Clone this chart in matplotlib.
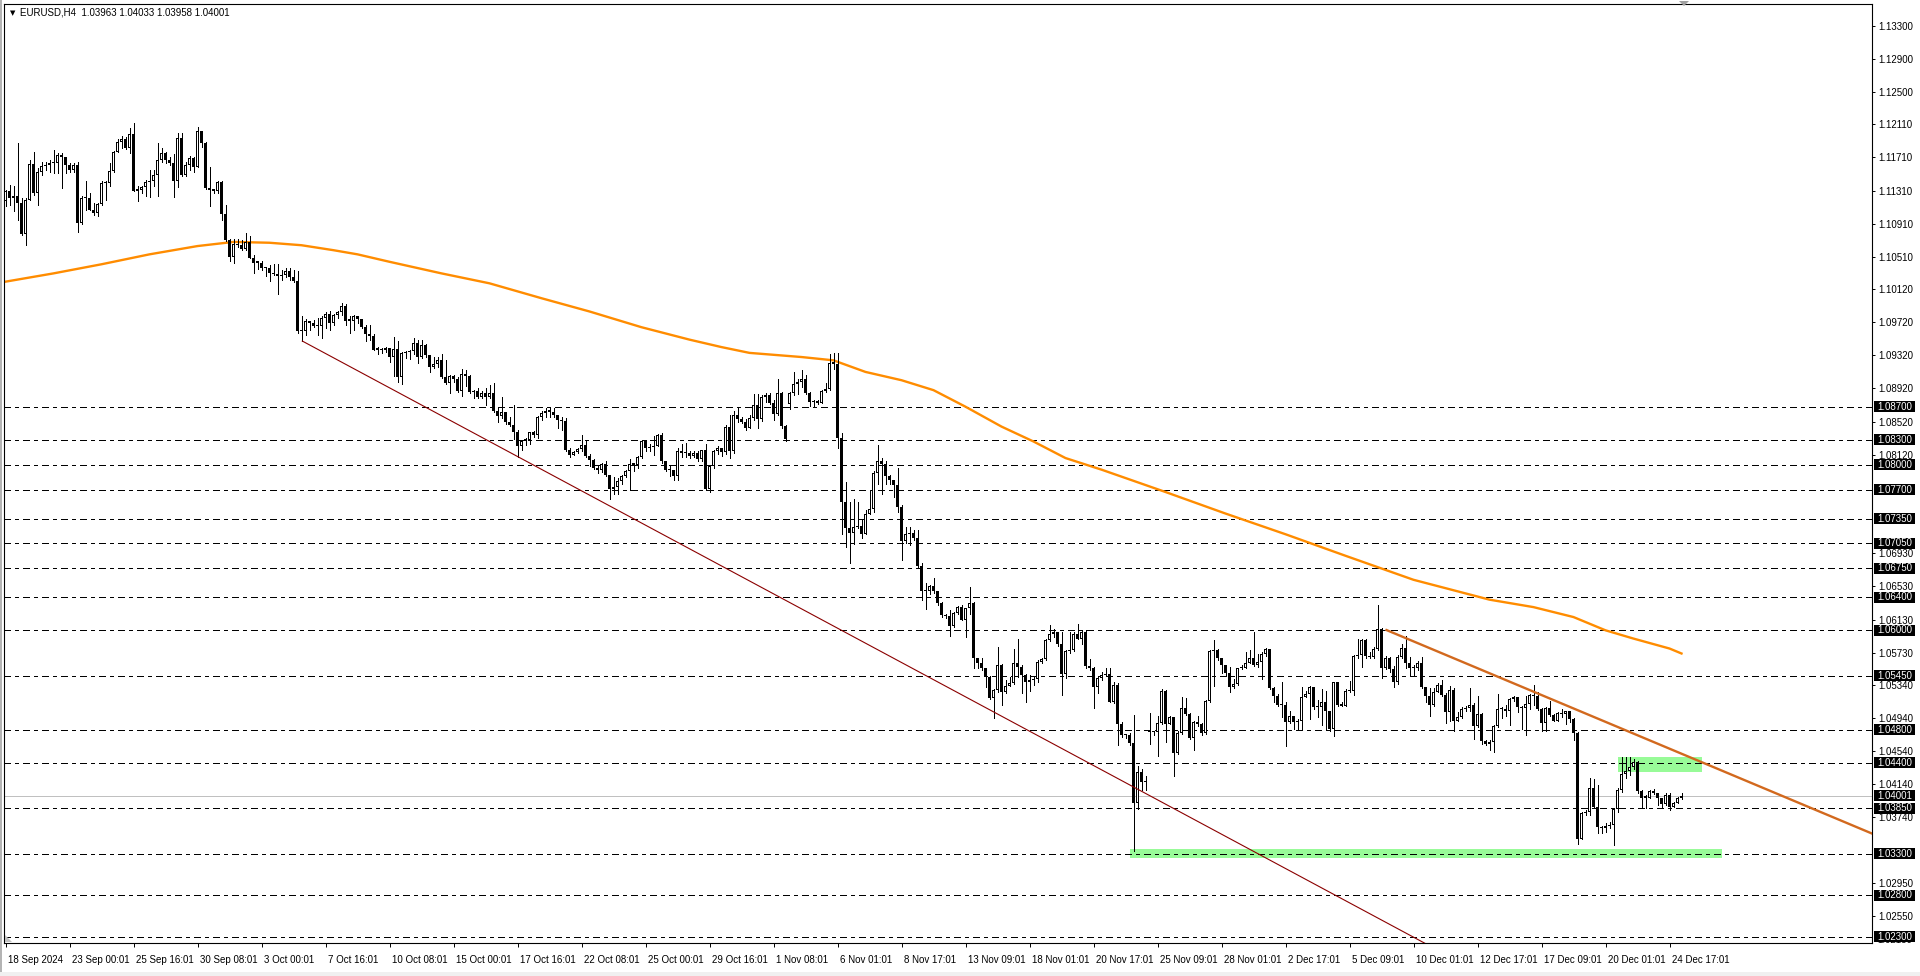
import numpy as np
import matplotlib
matplotlib.use("Agg")
import matplotlib.pyplot as plt
from matplotlib.patches import Rectangle, Polygon
from matplotlib.transforms import blended_transform_factory, ScaledTranslation

# ---------------- data (prices in 1e-4 units, e.g. 11130 = 1.1130) ----------------
PIP = 1e-4
first_open_p = 11118
gap_open_p = {196: 10873, 286: 10477}

close_p = [
    11130, 11122, 11124, 11116, 11079, 11120, 11163, 11128, 11154, 11161,
    11162, 11164, 11164, 11174, 11172, 11162, 11156, 11162, 11092, 11122,
    11122, 11108, 11104, 11115, 11140, 11140, 11155, 11178, 11190, 11193,
    11183, 11199, 11131, 11132, 11135, 11141, 11143, 11150, 11168, 11176,
    11168, 11164, 11142, 11195, 11150, 11162, 11170, 11160, 11203, 11188,
    11134, 11132, 11131, 11141, 11103, 11071, 11051, 11067, 11065, 11061,
    11069, 11050, 11044, 11044, 11037, 11038, 11031, 11030, 11028, 11029,
    11034, 11027, 11022, 10961, 10962, 10974, 10971, 10968, 10967, 10977,
    10982, 10971, 10981, 10984, 10992, 10974, 10974, 10980, 10976, 10966,
    10958, 10955, 10939, 10939, 10938, 10941, 10930, 10940, 10906, 10935,
    10936, 10937, 10947, 10930, 10945, 10932, 10918, 10922, 10926, 10906,
    10899, 10907, 10904, 10889, 10910, 10907, 10888, 10889, 10882, 10887,
    10882, 10887, 10865, 10859, 10864, 10851, 10848, 10840, 10823, 10829,
    10830, 10840, 10836, 10857, 10863, 10865, 10864, 10860, 10854, 10853,
    10818, 10812, 10815, 10819, 10824, 10810, 10806, 10796, 10793, 10801,
    10788, 10771, 10773, 10780, 10786, 10792, 10801, 10800, 10809, 10828,
    10820, 10821, 10823, 10836, 10804, 10793, 10793, 10786, 10817, 10814,
    10814, 10810, 10814, 10807, 10818, 10771, 10798, 10817, 10820, 10815,
    10846, 10816, 10860, 10855, 10852, 10844, 10856, 10872, 10855, 10882,
    10884, 10875, 10861, 10886, 10847, 10831, 10887, 10898, 10900, 10903,
    10887, 10876, 10876, 10875, 10889, 10891, 10923, 10922, 10832, 10755,
    10723, 10718, 10725, 10726, 10716, 10741, 10746, 10790, 10804, 10801,
    10786, 10781, 10775, 10749, 10708, 10716, 10718, 10711, 10678, 10647,
    10647, 10653, 10647, 10633, 10618, 10617, 10605, 10621, 10628, 10613,
    10627, 10633, 10566, 10560, 10554, 10544, 10518, 10528, 10558, 10526,
    10533, 10536, 10560, 10556, 10546, 10537, 10540, 10541, 10562, 10565,
    10588, 10596, 10598, 10583, 10547, 10575, 10576, 10596, 10590, 10598,
    10557, 10554, 10531, 10542, 10546, 10547, 10514, 10534, 10487, 10473,
    10473, 10464, 10392, 10429, 10417, 10418, 10477, 10477, 10488, 10527,
    10487, 10495, 10452, 10476, 10506, 10499, 10470, 10489, 10487, 10476,
    10515, 10575, 10576, 10566, 10558, 10549, 10531, 10535, 10554, 10555,
    10561, 10566, 10558, 10562, 10571, 10578, 10530, 10521, 10510, 10510,
    10489, 10497, 10489, 10491, 10519, 10523, 10531, 10507, 10507, 10514,
    10503, 10481, 10537, 10510, 10509, 10527, 10527, 10569, 10570, 10588,
    10569, 10568, 10578, 10601, 10554, 10567, 10553, 10537, 10568, 10579,
    10560, 10554, 10555, 10561, 10532, 10521, 10510, 10526, 10534, 10522,
    10501, 10528, 10490, 10495, 10505, 10506, 10510, 10484, 10499, 10466,
    10463, 10465, 10484, 10505, 10505, 10503, 10517, 10520, 10507, 10506,
    10511, 10522, 10521, 10505, 10488, 10506, 10498, 10491, 10500, 10499,
    10502, 10493, 10476, 10348, 10379, 10381, 10410, 10387, 10363, 10361,
    10364, 10365, 10384, 10407, 10427, 10430, 10435, 10441, 10406, 10398,
    10398, 10406, 10403, 10397, 10390, 10401, 10387, 10391, 10398, 10400,
]

high_p = [
    11132, 11138, 11136, 11188, 11122, 11122, 11168, 11177, 11158, 11166,
    11166, 11168, 11180, 11176, 11176, 11172, 11164, 11164, 11165, 11124,
    11142, 11128, 11116, 11116, 11143, 11143, 11164, 11179, 11193, 11197,
    11196, 11206, 11212, 11137, 11136, 11144, 11156, 11156, 11188, 11182,
    11178, 11172, 11175, 11201, 11200, 11166, 11173, 11171, 11208, 11203,
    11190, 11160, 11132, 11142, 11142, 11114, 11073, 11073, 11073, 11071,
    11080, 11076, 11053, 11046, 11046, 11039, 11041, 11042, 11042, 11035,
    11038, 11037, 11035, 11034, 10979, 10976, 10974, 10975, 10977, 10979,
    10984, 10985, 10982, 10986, 10995, 10994, 10979, 10981, 10979, 10976,
    10969, 10969, 10958, 10942, 10941, 10942, 10941, 10954, 10949, 10936,
    10937, 10939, 10953, 10950, 10950, 10946, 10932, 10930, 10930, 10934,
    10926, 10908, 10908, 10906, 10915, 10914, 10908, 10890, 10892, 10889,
    10892, 10896, 10899, 10868, 10882, 10863, 10857, 10872, 10842, 10830,
    10832, 10840, 10841, 10859, 10865, 10868, 10869, 10868, 10860, 10858,
    10856, 10820, 10817, 10820, 10836, 10830, 10813, 10807, 10799, 10802,
    10804, 10788, 10785, 10784, 10787, 10793, 10807, 10802, 10810, 10829,
    10830, 10825, 10835, 10837, 10838, 10805, 10798, 10792, 10820, 10825,
    10826, 10817, 10817, 10817, 10818, 10825, 10800, 10818, 10823, 10820,
    10848, 10860, 10865, 10869, 10857, 10855, 10860, 10885, 10885, 10884,
    10887, 10887, 10878, 10903, 10888, 10848, 10888, 10912, 10903, 10914,
    10908, 10888, 10878, 10878, 10890, 10899, 10934, 10935, 10935, 10838,
    10779, 10755, 10759, 10755, 10735, 10745, 10770, 10792, 10824, 10808,
    10804, 10787, 10782, 10796, 10751, 10725, 10725, 10721, 10721, 10681,
    10657, 10655, 10663, 10648, 10634, 10620, 10624, 10622, 10629, 10630,
    10627, 10652, 10634, 10567, 10566, 10555, 10545, 10529, 10580, 10559,
    10540, 10544, 10578, 10590, 10558, 10547, 10546, 10545, 10564, 10566,
    10589, 10606, 10601, 10598, 10598, 10576, 10598, 10598, 10608, 10600,
    10600, 10565, 10556, 10545, 10550, 10554, 10554, 10537, 10536, 10489,
    10475, 10476, 10498, 10436, 10432, 10424, 10500, 10479, 10497, 10529,
    10528, 10496, 10493, 10478, 10519, 10518, 10500, 10490, 10497, 10488,
    10516, 10576, 10588, 10578, 10566, 10558, 10556, 10541, 10555, 10558,
    10574, 10576, 10598, 10571, 10574, 10579, 10574, 10531, 10523, 10537,
    10514, 10503, 10497, 10493, 10531, 10527, 10533, 10532, 10516, 10529,
    10527, 10503, 10538, 10538, 10513, 10529, 10539, 10570, 10589, 10589,
    10589, 10574, 10580, 10630, 10603, 10569, 10568, 10557, 10570, 10583,
    10593, 10568, 10558, 10563, 10568, 10532, 10530, 10530, 10536, 10540,
    10524, 10533, 10530, 10501, 10507, 10509, 10530, 10512, 10521, 10500,
    10467, 10468, 10486, 10523, 10507, 10510, 10518, 10521, 10520, 10509,
    10521, 10523, 10534, 10526, 10506, 10507, 10515, 10499, 10501, 10505,
    10503, 10501, 10494, 10477, 10381, 10383, 10422, 10421, 10413, 10364,
    10367, 10368, 10386, 10409, 10447, 10447, 10447, 10444, 10442, 10407,
    10401, 10407, 10408, 10404, 10398, 10403, 10403, 10393, 10399, 10403,
]

low_p = [
    11112, 11114, 11106, 11095, 11077, 11065, 11120, 11126, 11114, 11150,
    11156, 11154, 11152, 11152, 11134, 11152, 11154, 11154, 11081, 11091,
    11108, 11107, 11101, 11100, 11114, 11120, 11137, 11153, 11177, 11183,
    11181, 11176, 11130, 11119, 11128, 11124, 11123, 11136, 11124, 11166,
    11164, 11162, 11123, 11135, 11148, 11148, 11156, 11154, 11160, 11184,
    11133, 11112, 11128, 11128, 11096, 11070, 11046, 11044, 11063, 11059,
    11059, 11049, 11031, 11036, 11035, 11028, 11022, 11029, 11006, 11023,
    11027, 11023, 11021, 10959, 10949, 10957, 10963, 10966, 10957, 10953,
    10965, 10963, 10969, 10977, 10981, 10969, 10959, 10963, 10971, 10965,
    10949, 10951, 10938, 10934, 10935, 10936, 10924, 10907, 10900, 10898,
    10929, 10928, 10934, 10923, 10929, 10930, 10912, 10917, 10918, 10905,
    10898, 10886, 10900, 10888, 10883, 10895, 10887, 10880, 10880, 10880,
    10872, 10880, 10864, 10851, 10856, 10849, 10847, 10831, 10809, 10818,
    10824, 10825, 10833, 10832, 10854, 10858, 10858, 10857, 10844, 10842,
    10817, 10809, 10813, 10814, 10816, 10809, 10798, 10795, 10790, 10791,
    10786, 10759, 10765, 10765, 10777, 10785, 10769, 10792, 10796, 10808,
    10817, 10817, 10812, 10822, 10802, 10792, 10786, 10781, 10781, 10809,
    10809, 10808, 10809, 10804, 10805, 10770, 10767, 10796, 10813, 10811,
    10813, 10808, 10814, 10851, 10850, 10842, 10844, 10854, 10844, 10853,
    10876, 10873, 10854, 10860, 10844, 10829, 10867, 10884, 10885, 10894,
    10885, 10871, 10870, 10873, 10875, 10888, 10890, 10916, 10820, 10716,
    10701, 10681, 10704, 10724, 10711, 10716, 10740, 10743, 10777, 10765,
    10777, 10777, 10761, 10743, 10685, 10705, 10703, 10709, 10676, 10636,
    10626, 10644, 10645, 10631, 10616, 10615, 10593, 10604, 10620, 10612,
    10592, 10620, 10555, 10554, 10552, 10532, 10517, 10494, 10526, 10510,
    10524, 10533, 10535, 10544, 10524, 10514, 10527, 10534, 10537, 10560,
    10564, 10587, 10592, 10581, 10522, 10542, 10573, 10575, 10589, 10584,
    10555, 10552, 10506, 10524, 10540, 10545, 10513, 10512, 10461, 10471,
    10470, 10462, 10333, 10384, 10407, 10407, 10463, 10474, 10448, 10487,
    10465, 10487, 10424, 10451, 10475, 10498, 10469, 10456, 10485, 10473,
    10475, 10514, 10533, 10564, 10548, 10546, 10526, 10530, 10534, 10553,
    10554, 10560, 10557, 10556, 10541, 10569, 10529, 10514, 10508, 10495,
    10460, 10488, 10481, 10480, 10481, 10519, 10493, 10505, 10495, 10486,
    10480, 10479, 10472, 10509, 10508, 10510, 10526, 10522, 10566, 10556,
    10567, 10566, 10567, 10576, 10542, 10553, 10550, 10531, 10535, 10567,
    10555, 10546, 10545, 10552, 10530, 10514, 10497, 10509, 10525, 10521,
    10488, 10490, 10479, 10490, 10494, 10502, 10503, 10469, 10483, 10463,
    10462, 10455, 10453, 10483, 10494, 10496, 10486, 10515, 10501, 10481,
    10474, 10505, 10510, 10504, 10479, 10479, 10497, 10490, 10491, 10495,
    10487, 10489, 10467, 10342, 10352, 10377, 10377, 10385, 10355, 10355,
    10357, 10361, 10341, 10381, 10405, 10422, 10425, 10433, 10404, 10385,
    10385, 10397, 10402, 10389, 10387, 10389, 10383, 10389, 10393, 10396,
]

# moving average (orange curve), sampled at bar numbers
ma_bar = [0, 12, 24, 36, 48, 57, 66, 74, 82, 88, 96, 109, 121, 134, 146, 159, 171,
          179, 186, 199, 207, 215, 224, 232, 240, 249, 257, 265, 274, 290, 305, 320,
          335, 352, 371, 382, 392, 400, 407, 416, 419]
ma_p = [11021, 11031, 11042, 11054, 11064, 11069, 11068, 11065, 11059, 11054, 11045,
        11031, 11019, 11001, 10985, 10966, 10951, 10942, 10935, 10930, 10926, 10912,
        10902, 10890, 10870, 10846, 10828, 10808, 10794, 10767, 10741, 10716, 10690,
        10661, 10637, 10628, 10616, 10600, 10590, 10578, 10572]

date_labels = ["18 Sep 2024", "23 Sep 00:01", "25 Sep 16:01", "30 Sep 08:01", "3 Oct 00:01",
               "7 Oct 16:01", "10 Oct 08:01", "15 Oct 00:01", "17 Oct 16:01", "22 Oct 08:01",
               "25 Oct 00:01", "29 Oct 16:01", "1 Nov 08:01", "6 Nov 01:01", "8 Nov 17:01",
               "13 Nov 09:01", "18 Nov 01:01", "20 Nov 17:01", "25 Nov 09:01", "28 Nov 01:01",
               "2 Dec 17:01", "5 Dec 09:01", "10 Dec 01:01", "12 Dec 17:01", "17 Dec 09:01",
               "20 Dec 01:01", "24 Dec 17:01"]
bars_per_label = 16

price_ticks = [1.13300, 1.12900, 1.12500, 1.12110, 1.11710, 1.11310, 1.10910, 1.10510,
               1.10120, 1.09720, 1.09320, 1.08920, 1.08520, 1.08120, 1.06930, 1.06530,
               1.06130, 1.05730, 1.05340, 1.04940, 1.04540, 1.04140, 1.03740, 1.02950,
               1.02550]
bottom_price_label = 1.02150

levels = [1.08700, 1.08300, 1.08000, 1.07700, 1.07350, 1.07050, 1.06750, 1.06400,
          1.06000, 1.05450, 1.04800, 1.04400, 1.03850, 1.03300, 1.02800, 1.02300]
bid = 1.04001
title = "EURUSD,H4  1.03963 1.04033 1.03958 1.04001"

# drawn objects: (bar, price) anchors
red_trend = [(74.2, 1.09493), (255.0, 1.04808)]
orange_trend = [(345.25, 1.06003), (438.75, 1.04110)]
zones = [((403.0, 1.04285), (424.0, 1.04475)),
         ((281.0, 1.03251), (429.0, 1.03356))]

# ---------------- build OHLC ----------------
c = np.array(close_p) * PIP
o = np.empty_like(c)
o[0] = first_open_p * PIP
o[1:] = c[:-1]
for k, v in gap_open_p.items():
    o[k] = v * PIP
h = np.maximum.reduce([np.array(high_p) * PIP, o, c])
l = np.minimum.reduce([np.array(low_p) * PIP, o, c])
n = len(c)
x = np.arange(n)

# ---------------- figure ----------------
plt.rcParams['font.family'] = ['Liberation Sans', 'DejaVu Sans']
plt.rcParams['font.size'] = 7
plt.rcParams['lines.scale_dashes'] = False
FS = 7

W, H = 1920, 976
fig = plt.figure(figsize=(W / 100, H / 100), dpi=100)
ax_l, ax_r, ax_t, ax_b = 4, 1872, 4, 943
ax = fig.add_axes([ax_l / W, (H - ax_b) / H, (ax_r - ax_l) / W, (ax_b - ax_t) / H])
ymin, ymax = 1.02224, 1.13563
xmin = -0.375
xmax = xmin + (ax_r - ax_l) / 4.0
ax.set_xlim(xmin, xmax)
ax.set_ylim(ymin, ymax)
ppx = (ax_b - ax_t) / (ymax - ymin)      # pixels per price unit
bpx = (ax_r - ax_l) / (xmax - xmin)      # pixels per bar
PX = 1.0 / bpx                           # one pixel in bar units
onepx_pt = 72.0 / 100.0

# zones
for (x0, y0), (x1, y1) in zones:
    ax.add_patch(Rectangle((x0, y0), x1 - x0, y1 - y0, facecolor='#98FB98',
                           edgecolor='none', zorder=0.5))

# levels
for lv in levels:
    ax.axhline(lv, color='black', lw=onepx_pt, linestyle=(0, (5.0, 2.9, 2.2, 2.9)),
               zorder=1, antialiased=False)
ax.axhline(bid, color='#C0C0C0', lw=onepx_pt, zorder=1, antialiased=False)

# moving average
ax.plot(ma_bar, np.array(ma_p) * PIP, color='#FF8C00', lw=1.7, zorder=2)

# candles: wick, black 3px body, white 1px interior for bullish bodies
up = c >= o
ax.vlines(x, l, h, color='black', lw=onepx_pt, zorder=3, antialiased=False)
body_b = np.minimum(o, c)
body_h = np.abs(c - o)
body_draw = np.maximum(body_h, 1.2 / ppx)
ax.bar(x, body_draw, bottom=body_b, width=3 * PX, color='black', edgecolor='none',
       linewidth=0, zorder=4, antialiased=False)
inner = up & (body_h * ppx > 2.2)
ax.bar(x[inner], body_h[inner] - 2.0 / ppx, bottom=body_b[inner] + 1.0 / ppx,
       width=1 * PX, color='white', edgecolor='none', linewidth=0, zorder=5,
       antialiased=False)

# trend lines
def ray(p0, p1, x_end):
    (xa, ya), (xb, yb) = p0, p1
    s = (yb - ya) / (xb - xa)
    return [xa, x_end], [ya, ya + s * (x_end - xa)]

rx, ry = ray(*red_trend, xmax + 5)
ax.plot(rx, ry, color='#8B0000', lw=0.8, zorder=6)
ox, oy = ray(*orange_trend, xmax + 5)
ax.plot(ox, oy, color='#D2691E', lw=1.7, zorder=6)

# ---------------- axes styling ----------------
for sp in ax.spines.values():
    sp.set_linewidth(0.8)
    sp.set_color('black')

ax.yaxis.tick_right()
ax.set_yticks(price_ticks)
ax.set_yticklabels([f"{v:.5f}" for v in price_ticks])
ax.tick_params(axis='y', direction='out', length=2.2, width=0.7, pad=2.0,
               labelsize=FS, colors='black')

ax.set_xticks(np.arange(len(date_labels)) * bars_per_label)
ax.set_xticklabels(date_labels)
ax.tick_params(axis='x', direction='out', length=3.0, width=0.7, pad=5.5, labelsize=FS)
for lab in ax.get_xticklabels():
    lab.set_ha('left')
    lab.set_transform(lab.get_transform() + ScaledTranslation(2 / 100, 0, fig.dpi_scale_trans))

tr = blended_transform_factory(ax.transAxes, ax.transData)
axw = ax_r - ax_l
shift = ScaledTranslation(5 / 100, 0, fig.dpi_scale_trans)
ax.text(1.0, ymin + 3 / ppx, f"{bottom_price_label:.5f}", transform=tr + shift,
        ha='left', va='center', fontsize=FS, color='black', clip_on=False)

for lv in levels + [bid]:
    ax.add_patch(Rectangle((1.0 + 2 / axw, lv - 5.5 / ppx), 41 / axw, 11 / ppx,
                           transform=tr, facecolor='black', edgecolor='none',
                           clip_on=False, zorder=10))
    ax.text(1.0, lv, f"{lv:.5f}", transform=tr + shift,
            ha='left', va='center', fontsize=FS, color='white', clip_on=False, zorder=11)

# title
fig.text(10 / W, 1 - 13 / H, "\u25BC", fontsize=5, ha='left', va='center', color='black',
         family=['DejaVu Sans'])
fig.text(20 / W, 1 - 12.5 / H, title, fontsize=FS, ha='left', va='center', color='black')

# small grey markers (chart shift at top, scale-fix corner at bottom-left)
fig.patches.append(Polygon([[1679 / W, 1 - 1 / H], [1689 / W, 1 - 1 / H], [1684 / W, 1 - 6 / H]],
                           closed=True, transform=fig.transFigure, facecolor='#A0A0A0',
                           edgecolor='none'))
fig.patches.append(Polygon([[5 / W, 1 - 935 / H], [5 / W, 1 - 942 / H], [12 / W, 1 - 942 / H]],
                           closed=True, transform=fig.transFigure, facecolor='#C0C0C0',
                           edgecolor='none'))
# window border
fig.patches.append(Rectangle((0, 0), 2 / W, 1, transform=fig.transFigure,
                             facecolor='#B4B4B4', edgecolor='none'))
fig.patches.append(Rectangle((0, 0), 1, 4 / H, transform=fig.transFigure,
                             facecolor='#F0F0F0', edgecolor='none'))

fig.savefig("out.png", dpi=100, facecolor='white')
